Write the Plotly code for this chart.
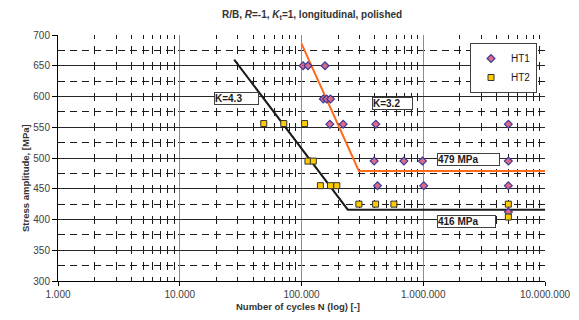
import plotly.graph_objects as go

# ---------------- data ----------------
ht1_n = [103000, 113000, 156000,
         151000, 161000, 173000,
         171000, 220000, 408000, 5000000,
         395000, 693000, 985000, 5000000,
         421000, 1010000, 5000000,
         5000000]
ht1_s = [650, 650, 650,
         596, 596, 596,
         555, 555, 555, 555,
         495, 495, 495, 495,
         455, 455, 455,
         412]

ht2_n = [49000, 71500, 106000,
         113000, 125000,
         143000, 173000, 195000,
         296000, 406000, 574000, 5000000,
         5000000]
ht2_s = [556, 556, 556,
         495, 495,
         455, 455, 455,
         425, 425, 425, 425,
         404]

k43_n = [28000, 240000, 10000000]
k43_s = [660, 416, 416]
k32_n = [100000, 296000, 10000000]
k32_s = [686, 479, 479]

x_tickvals = [1e3, 1e4, 1e5, 1e6, 1e7]
x_ticktext = ["1.000", "10.000", "100.000", "1.000.000", "10.000.000"]
y_tickvals = [300, 350, 400, 450, 500, 550, 600, 650, 700]

box_labels = ["K=4.3", "K=3.2", "479 MPa", "416 MPa"]

# ---------------- layout helpers ----------------
W, H = 579, 320
L, R, T, B = 58, 34, 35, 39
PW, PH = W - L - R, H - T - B


def px(x):
    return (x - L) / PW


def py(y):
    return (H - B - y) / PH


FONT = "Liberation Sans, Arial, sans-serif"

fig = go.Figure()

fig.add_trace(go.Scatter(x=k43_n, y=k43_s, mode="lines", showlegend=False,
                         line=dict(color="#1a1a1a", width=2), hoverinfo="skip"))
fig.add_trace(go.Scatter(x=k32_n, y=k32_s, mode="lines", showlegend=False,
                         line=dict(color="#FF6A1A", width=2), hoverinfo="skip"))
fig.add_trace(go.Scatter(x=ht1_n, y=ht1_s, mode="markers", name="HT1",
                         marker=dict(symbol="diamond", size=6, color="#DE6A86",
                                     line=dict(color="#3a3a9a", width=1.2))))
fig.add_trace(go.Scatter(x=ht2_n, y=ht2_s, mode="markers", name="HT2",
                         marker=dict(symbol="square", size=6, color="#FFCC00",
                                     line=dict(color="#333333", width=1))))

minor_x = [m * 10 ** e for e in range(3, 7) for m in range(2, 10)]

fig.update_xaxes(type="log", range=[3, 7], automargin=False,
                 tickmode="array", tickvals=x_tickvals, ticktext=x_ticktext,
                 showline=True, linecolor="#000000", linewidth=1,
                 ticks="outside", ticklen=4, tickcolor="#000000",
                 showgrid=True, gridcolor="#8c8c8c", gridwidth=1,
                 minor=dict(tickmode="array", tickvals=minor_x, showgrid=True,
                            gridcolor="#1a1a1a", gridwidth=1,
                            griddash="4px,7.375px,4px,0px"),
                 tickfont=dict(family=FONT, size=10, color="#404040"),
                 zeroline=False, mirror=False)
fig.update_yaxes(range=[300, 700], automargin=False,
                 tickmode="array", tickvals=y_tickvals,
                 showline=True, linecolor="#000000", linewidth=1,
                 ticks="outside", ticklen=5, tickcolor="#000000",
                 showgrid=True, gridcolor="#262626", gridwidth=1,
                 minor=dict(dtick=25, tick0=0, showgrid=True, gridcolor="#1a1a1a",
                            gridwidth=1, griddash="7px,5px"),
                 tickfont=dict(family=FONT, size=10, color="#404040"),
                 zeroline=False)

annos = [
    dict(text="<b>R/B, <i>R</i>=-1, <i>K</i><sub>t</sub>=1, longitudinal, polished</b>",
         x=px(312), y=py(15), font=dict(size=10, color="#333333")),
    dict(text="<b>Number of cycles N (log) [-]</b>", x=px(298), y=py(306),
         font=dict(size=9.5, color="#333333")),
    dict(text="<b>Stress amplitude, [MPa]</b>", x=px(25), y=py(178), textangle=-90,
         font=dict(size=9.5, color="#333333")),
]
for a in annos:
    a.update(xref="paper", yref="paper", showarrow=False, xanchor="center",
             yanchor="middle")
    a["font"]["family"] = FONT
    fig.add_annotation(**a)

box_pos = [(214, 92, 43), (372, 97, 39), (437, 153, 61), (437, 215, 57)]
for txt, (bx, by, bw) in zip(box_labels, box_pos):
    fig.add_annotation(text="<b>" + txt + "</b>", xref="paper", yref="paper",
                       x=px(bx), y=py(by), xanchor="left", yanchor="top",
                       showarrow=False, align="left", width=bw,
                       bgcolor="#ffffff", bordercolor="#404040", borderwidth=1,
                       borderpad=0,
                       font=dict(family=FONT, size=10, color="#1a1a1a"))

fig.update_layout(
    width=W, height=H,
    margin=dict(l=L, r=R, t=T, b=B, autoexpand=False),
    paper_bgcolor="#ffffff", plot_bgcolor="#ffffff",
    showlegend=True,
    legend=dict(x=px(537), y=py(43), xanchor="right", yanchor="top",
                bgcolor="#ffffff", bordercolor="#404040", borderwidth=1,
                font=dict(family=FONT, size=10, color="#1a1a1a"),
                itemwidth=30, tracegroupgap=0),
    font=dict(family=FONT),
)

fig.write_html("out.html", config={"displayModeBar": False},
               post_script="document.body.style.margin='0';document.body.style.padding='0';")
